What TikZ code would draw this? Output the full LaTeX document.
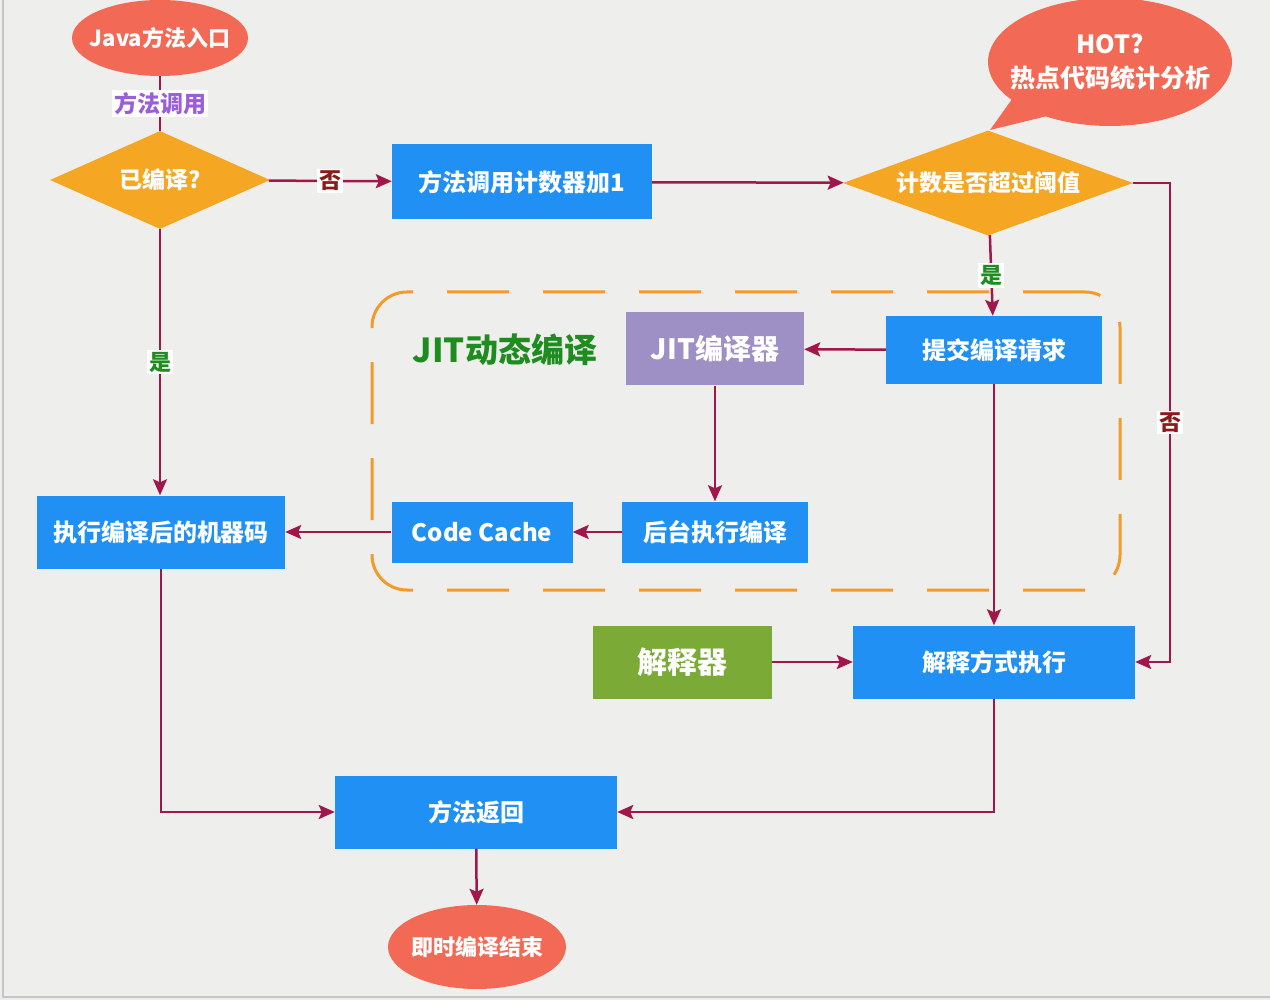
\documentclass[tikz,border=0pt]{standalone}
\usepackage{fontspec}
\setmainfont{Noto Sans CJK SC}
\usepackage{xcolor}
\usepackage{tikz}
\usetikzlibrary{arrows.meta,positioning,shapes.geometric,shapes.callouts}

\definecolor{bgc}{HTML}{EEEFEC}
\definecolor{boxblue}{HTML}{2090F5}
\definecolor{diaorange}{HTML}{F5A623}
\definecolor{ovalred}{HTML}{F26A55}
\definecolor{jitpurple}{HTML}{9E90C4}
\definecolor{intgreen}{HTML}{7BAA36}
\definecolor{linered}{HTML}{A2174B}
\definecolor{yesgreen}{HTML}{1E8C1E}
\definecolor{nored}{HTML}{8B1A1A}
\definecolor{callpurple}{HTML}{9A5FD8}
\definecolor{zoneorange}{HTML}{F39A2A}

\begin{document}
\begin{tikzpicture}[x=1pt, y=-1pt,
  box/.style={rectangle, fill=boxblue, text=white, inner sep=0pt, minimum height=73pt,
    font=\fontsize{24}{28}\selectfont\bfseries},
  dia/.style={diamond, fill=diaorange, text=white, inner sep=0pt, aspect=2.6,
    font=\fontsize{23}{27}\selectfont\bfseries},
  oval/.style={ellipse, fill=ovalred, text=white, inner xsep=-8pt, inner ysep=0pt,
    font=\fontsize{22}{26}\selectfont\bfseries},
  arr/.style={-{Stealth[length=16pt, width=14pt, inset=3pt]}, line width=2.5pt, draw=linered},
  wire/.style={line width=2.5pt, draw=linered},
  yeslab/.style={fill=white, inner sep=2pt, text=yesgreen, font=\fontsize{22}{25}\selectfont\bfseries},
  nolab/.style={fill=white, inner sep=2pt, text=nored, font=\fontsize{22}{25}\selectfont\bfseries},
  calllab/.style={fill=white, inner sep=2pt, text=callpurple, font=\fontsize{23}{26}\selectfont\bfseries}]
\useasboundingbox (0,0) rectangle (1270,1000);
\fill[bgc] (0,0) rectangle (1270,1000);
\draw[gray!45, line width=2pt] (3,0) -- (3,997) -- (1270,997);
% jit zone
\node[draw=zoneorange, line width=3pt, dash pattern=on 62pt off 34pt, rounded corners=35pt,
  minimum width=748pt, minimum height=298pt, inner sep=0pt] (zone) at (746,441) {};
\node[text=yesgreen, font=\fontsize{33}{38}\selectfont\bfseries] (zonelab) at (505,350) {JIT动态编译};
% nodes
\node[oval, minimum width=176pt, minimum height=76pt] (entry) at (160,38) {Java方法入口};
\node[dia, minimum width=220pt, minimum height=98pt] (compiled) at (160,180) {已编译?};
\node[box, minimum width=260pt, minimum height=75pt] (counter) at (522,182) {方法调用计数器加1};
\node[dia, minimum width=290pt, minimum height=105pt] (thresh) at (988,183) {计数是否超过阈值};
\node[ellipse callout, fill=ovalred, text=white, inner xsep=-14pt, inner ysep=0pt, align=center,
  minimum width=244pt, minimum height=128pt, callout absolute pointer={(990,130)},
  callout pointer arc=22, font=\fontsize{25}{34}\selectfont\bfseries] (hot) at (1110,62) {HOT?\\热点代码统计分析};
\node[box, minimum width=216pt, minimum height=68pt] (submit) at (994,350) {提交编译请求};
\node[box, fill=jitpurple, minimum width=178pt, font=\fontsize{28}{32}\selectfont\bfseries] (jitc) at (715,349) {JIT编译器};
\node[box, minimum width=186pt, minimum height=61pt] (backend) at (715,532) {后台执行编译};
\node[box, minimum width=181pt, minimum height=61pt] (cache) at (482,532) {Code Cache};
\node[box, minimum width=248pt] (mcode) at (161,532) {执行编译后的机器码};
\node[box, fill=intgreen, minimum width=179pt, font=\fontsize{30}{34}\selectfont\bfseries] (interpr) at (682,662) {解释器};
\node[box, minimum width=282pt] (interp) at (994,662) {解释方式执行};
\node[box, minimum width=282pt] (ret) at (476,812) {方法返回};
\node[oval, minimum width=178pt, minimum height=84pt] (finish) at (477,947) {即时编译结束};
% connectors
\draw[wire] (entry) -- node[calllab] {方法调用} (compiled);
\draw[arr] (compiled) -- node[nolab] {否} (counter);
\draw[arr] (counter) -- (thresh);
\draw[arr] (thresh) -- node[yeslab] {是} (submit);
\draw[arr] (thresh.east) -- ++(37,0) |- node[nolab, pos=0.25] {否} (interp.east);
\draw[arr] (submit) -- (jitc);
\draw[arr] (jitc) -- (backend);
\draw[arr] (backend) -- (cache);
\draw[arr] (cache) -- (mcode);
\draw[arr] (compiled.south) -- node[yeslab] {是} (compiled.south |- mcode.north);
\draw[arr] (submit) -- (interp);
\draw[arr] (interpr) -- (interp);
\draw[arr] (interp) |- (ret);
\draw[arr] (mcode) |- (ret);
\draw[arr] (ret) -- (finish);
\end{tikzpicture}
\end{document}
